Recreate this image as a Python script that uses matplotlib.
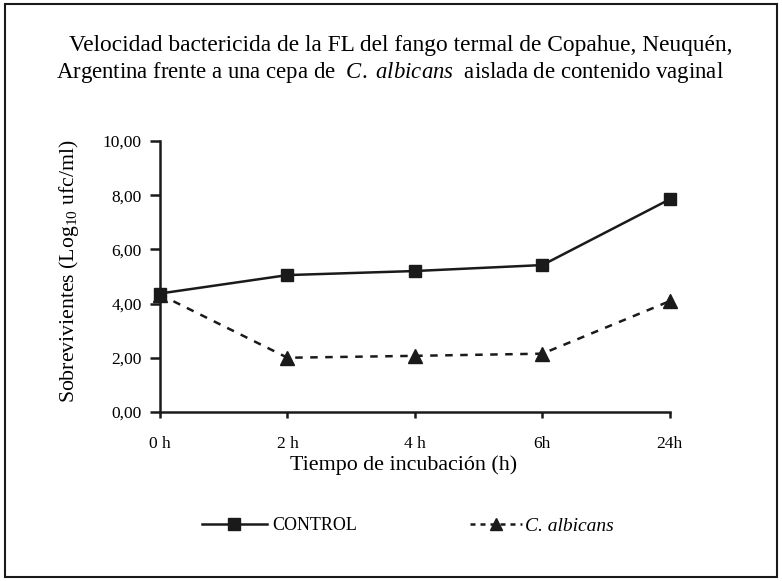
import matplotlib
matplotlib.use("Agg")
import matplotlib.pyplot as plt
from matplotlib.patches import Rectangle
from matplotlib.lines import Line2D

plt.rcParams['font.family'] = ['Liberation Serif', 'DejaVu Serif']
plt.rcParams['mathtext.fontset'] = 'custom'
plt.rcParams['mathtext.rm'] = 'Liberation Serif'
plt.rcParams['mathtext.it'] = 'Liberation Serif:italic'

categories = ["0 h", "2 h", "4 h", "6h", "24h"]
control = [4.37, 5.05, 5.20, 5.42, 7.85]
albicans = [4.33, 2.00, 2.07, 2.15, 4.09]
yticks = [0, 2, 4, 6, 8, 10]
ytick_labels = ["0,00", "2,00", "4,00", "6,00", "8,00", "10,00"]

ink = '#1a1a1a'
dash = (0, (3, 3))

fig = plt.figure(figsize=(7.82, 5.81), dpi=100)
ax = fig.add_axes([0.2046, 0.291, 0.652, 0.4664])

x = list(range(len(categories)))
ax.plot(x, control, color=ink, lw=1.8, marker='s', ms=8, clip_on=False, zorder=3)
ax.plot(x, albicans, color=ink, lw=1.8, ls=dash, marker='^', ms=10, clip_on=False, zorder=3)

ax.set_xlim(0, len(categories) - 1)
ax.set_ylim(0, 10)
ax.set_xticks(x)
ax.set_xticklabels(categories, fontsize=12.5)
ax.set_yticks(yticks)
ax.set_yticklabels(ytick_labels, fontsize=12.5)
for s in ['top', 'right']:
    ax.spines[s].set_visible(False)
for s in ['left', 'bottom']:
    ax.spines[s].set_linewidth(1.8)
    ax.spines[s].set_color(ink)
ax.tick_params(axis='y', direction='out', length=7, width=1.8, color=ink, pad=6)
ax.tick_params(axis='x', direction='out', length=4, width=1.8, color=ink, pad=13)

ax.set_ylabel(r'Sobrevivientes (Log$_{10}$ ufc/ml)', fontsize=15.7)
ax.yaxis.set_label_coords(-0.155, 0.52)
ax.set_xlabel('Tiempo de incubación (h)', fontsize=15.8)
ax.xaxis.set_label_coords(0.478, -0.159)

fig.text(0.513, 0.922, 'Velocidad bactericida de la FL del fango termal de Copahue, Neuquén,',
         ha='center', va='center', fontsize=16.8)
fig.text(0.499, 0.875, r'Argentina frente a una cepa de  $\it{C.\ albicans}$  aislada de contenido vaginal',
         ha='center', va='center', fontsize=16.4)

h1 = Line2D([], [], color=ink, lw=1.8, marker='s', ms=8)
h2 = Line2D([], [], color=ink, lw=1.8, ls=(0, (2, 2)), marker='^', ms=9)
leg1 = fig.legend([h1], ['CONTROL'], loc='center left', bbox_to_anchor=(0.258, 0.095),
                  frameon=False, fontsize=13, handlelength=3.6, handletextpad=0.3,
                  borderpad=0, borderaxespad=0)
leg2 = fig.legend([h2], ['C. albicans'], loc='center left', bbox_to_anchor=(0.601, 0.095),
                  frameon=False, prop={'size': 14, 'style': 'italic'}, handlelength=2.7,
                  handletextpad=0.15, borderpad=0, borderaxespad=0)

fig.add_artist(Rectangle((0.007, 0.007), 0.987, 0.986, transform=fig.transFigure,
                         fill=False, ec=ink, lw=1.5))

fig.savefig('out.png', dpi=100)
